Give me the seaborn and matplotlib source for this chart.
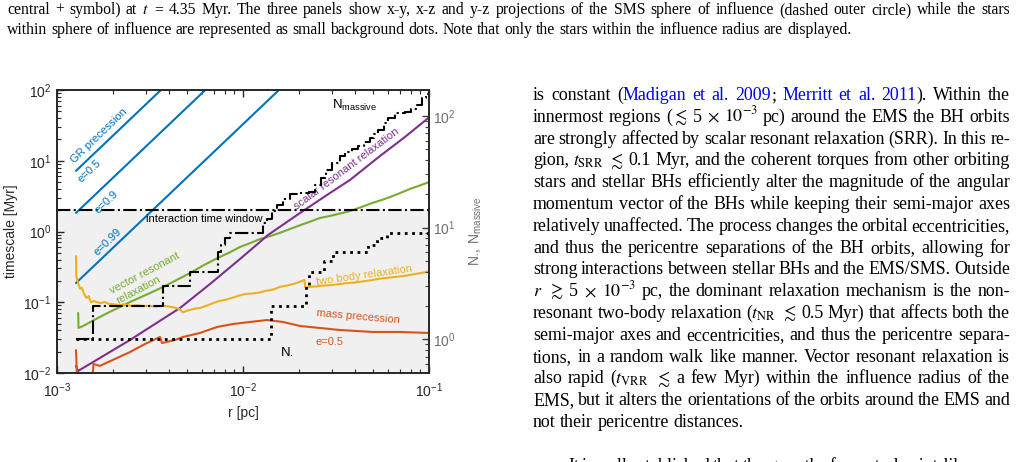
import matplotlib
matplotlib.use("Agg")
import matplotlib.pyplot as plt
from matplotlib.transforms import IdentityTransform
from matplotlib.ticker import NullFormatter
import seaborn as sns

W, H = 1017, 462

# ---- data ----
# GR precession (straight lines, start / end)
gr_r_05 = [1.265e-3, 3.62e-3]
gr_t_05 = [7.2, 100]
gr_r_09 = [1.265e-3, 6.27e-3]
gr_t_09 = [1.83, 100]
gr_r_099 = [1.265e-3, 1.56e-2]
gr_t_099 = [0.187, 100]

# two body relaxation
nr_r = [1.265e-3, 1.27e-3, 1.3e-3, 1.33e-3, 1.36e-3, 1.4e-3, 1.44e-3, 1.48e-3, 1.52e-3, 1.58e-3,
        1.65e-3, 1.72e-3, 1.8e-3, 1.9e-3, 2.0e-3, 2.15e-3, 2.3e-3, 2.5e-3, 2.7e-3, 2.9e-3,
        3.1e-3, 3.4e-3, 3.7e-3, 4.0e-3, 4.3e-3, 4.55e-3, 4.75e-3, 4.95e-3, 5.2e-3, 5.5e-3,
        5.9e-3, 6.4e-3, 6.9e-3, 7.4e-3, 8.0e-3, 8.7e-3, 9.5e-3, 1.03e-2, 1.12e-2, 1.22e-2,
        1.33e-2, 1.45e-2, 1.58e-2, 1.72e-2, 1.88e-2, 2.02e-2, 2.14e-2, 2.16e-2, 2.3e-2, 2.5e-2,
        2.75e-2, 3.0e-2, 3.3e-2, 3.6e-2, 4.0e-2, 4.4e-2, 4.9e-2, 5.4e-2, 6.0e-2, 6.6e-2,
        7.3e-2, 8.0e-2, 8.8e-2, 9.5e-2, 1.0e-1]
nr_t = [0.45, 0.23, 0.185, 0.155, 0.16, 0.13, 0.115, 0.122, 0.1, 0.104,
        0.1, 0.097, 0.101, 0.095, 0.094, 0.091, 0.093, 0.089, 0.091, 0.088,
        0.089, 0.087, 0.089, 0.087, 0.084, 0.08, 0.072, 0.075, 0.078, 0.081,
        0.083, 0.09, 0.097, 0.104, 0.108, 0.115, 0.124, 0.131, 0.133, 0.137,
        0.145, 0.151, 0.165, 0.172, 0.182, 0.195, 0.207, 0.163, 0.165, 0.168,
        0.173, 0.175, 0.181, 0.186, 0.19, 0.197, 0.205, 0.215, 0.222, 0.228,
        0.235, 0.245, 0.255, 0.265, 0.275]

# vector resonant relaxation
vrr_r = [1.3e-3, 1.305e-3, 1.4e-3, 1.5e-3, 1.7e-3, 1.9e-3, 2.15e-3, 2.47e-3, 2.8e-3, 3.2e-3,
         3.71e-3, 4.3e-3, 5.19e-3, 6.1e-3, 7.34e-3, 8.4e-3, 9.63e-3, 1.1e-2, 1.234e-2, 1.4e-2,
         1.6e-2, 1.79e-2, 2.05e-2, 2.3e-2, 2.59e-2, 3.0e-2, 3.4e-2, 3.76e-2, 4.3e-2, 5.0e-2,
         5.6e-2, 6.17e-2, 7.0e-2, 8.0e-2, 9.0e-2, 0.1]
vrr_t = [0.0706, 0.0433, 0.047, 0.052, 0.0619, 0.072, 0.084, 0.1008, 0.117, 0.137,
         0.164, 0.2, 0.259, 0.33, 0.425, 0.5, 0.604, 0.69, 0.783, 0.86,
         0.97, 1.085, 1.24, 1.38, 1.55, 1.68, 1.82, 1.95, 2.2, 2.55,
         2.8, 3.07, 3.5, 4.05, 4.5, 5.0]

# scalar resonant relaxation
srr_r = [1.265e-3, 1.297e-3, 1.7e-3, 2.47e-3, 3.364e-3, 4.585e-3, 6.647e-3, 9.63e-3,
         1.363e-2, 2.025e-2, 2.935e-2, 3.76e-2, 5.454e-2, 7.43e-2, 0.1]
srr_t = [0.01256, 0.01067, 0.0163, 0.0293, 0.0493, 0.0829, 0.181, 0.408,
         0.892, 1.826, 3.5, 5.35, 11.67, 21.7, 41.0]

# mass precession, e=0.5
mp_r = [1.265e-3, 1.281e-3, 1.414e-3, 1.552e-3, 1.571e-3, 1.7e-3, 2.05e-3, 2.47e-3, 2.97e-3,
        3.58e-3, 3.67e-3, 4.31e-3, 4.76e-3, 5.87e-3, 7.25e-3, 8.84e-3, 1.09e-2, 1.346e-2,
        1.64e-2, 2.025e-2, 2.59e-2, 3.32e-2, 5.0e-2, 7.0e-2, 0.1]
mp_t = [0.0211, 0.0091, 0.0085, 0.0088, 0.0134, 0.0126, 0.0158, 0.0198, 0.0257,
        0.0323, 0.0265, 0.0293, 0.0323, 0.0368, 0.0447, 0.0493, 0.0526, 0.0561,
        0.0526, 0.0462, 0.0433, 0.0405, 0.038, 0.038, 0.0368]

# N_massive (right axis, steps)
nm_r = [1.265e-3, 1.561e-3, 3.71e-3, 5.19e-3, 7.34e-3, 7.62e-3, 8.0e-3, 8.51e-3, 1.281e-2,
        1.346e-2, 1.432e-2, 1.523e-2, 1.64e-2, 1.79e-2, 2.025e-2, 2.25e-2, 2.45e-2, 2.62e-2,
        2.8e-2, 3.0e-2, 3.32e-2, 3.55e-2, 3.85e-2, 4.15e-2, 4.45e-2, 4.8e-2, 5.06e-2, 5.3e-2,
        5.75e-2, 6.02e-2, 6.56e-2, 7.43e-2, 8.0e-2, 8.6e-2, 9.2e-2, 9.64e-2, 0.1]
nm_n = [1, 2, 3, 4, 6, 7, 8, 9, 11,
        12, 14, 16, 18, 20, 20.5, 21, 24, 28,
        33, 38, 44, 47, 50, 54, 58, 63, 69, 75,
        86, 95, 106, 108, 115, 125, 144, 158, 163]

# N_bullet (right axis, steps)
nb_r = [1.265e-3, 1.414e-2, 2.18e-2, 2.26e-2, 2.73e-2, 3.05e-2, 4.7e-2, 5.25e-2, 5.94e-2, 0.1]
nb_n = [1, 2, 3, 4, 5, 6, 7, 8, 9, 9]

BLUE, ORANGE, GREEN = "#0072BD", "#EDB120", "#77AC30"
PURPLE, RED = "#7E2F8E", "#D95319"
INK = "#262626"
SERIF = ["Liberation Serif", "DejaVu Serif"]

# ---- page text (caption above, column text right) ----
caption = [
    "central + symbol) at $t$ = 4.35 Myr. The three panels show x-y, x-z and y-z projections of the SMS sphere of influence (dashed outer circle) while the stars",
    "within sphere of influence are represented as small background dots. Note that only the stars within the influence radius are displayed.",
]
body = [
    "is constant (|Madigan| |et| |al.| |2009|; |Merritt| |et| |al.| |2011|). Within the",
    r"innermost regions ($\lesssim$ 5 $\times$ $10^{-3}$ pc) around the EMS the BH orbits",
    "are strongly affected by scalar resonant relaxation (SRR). In this re-",
    r"gion, $t_\mathrm{SRR}$ $\lesssim$ 0.1 Myr, and the coherent torques from other orbiting",
    "stars and stellar BHs efficiently alter the magnitude of the angular",
    "momentum vector of the BHs while keeping their semi-major axes",
    "relatively unaffected. The process changes the orbital eccentricities,",
    "and thus the pericentre separations of the BH orbits, allowing for",
    "strong interactions between stellar BHs and the EMS/SMS. Outside",
    r"$r$ $\gtrsim$ 5 $\times$ $10^{-3}$ pc, the dominant relaxation mechanism is the non-",
    r"resonant two-body relaxation ($t_\mathrm{NR}$ $\lesssim$ 0.5 Myr) that affects both the",
    "semi-major axes and eccentricities, and thus the pericentre separa-",
    "tions, in a random walk like manner. Vector resonant relaxation is",
    r"also rapid ($t_\mathrm{VRR}$ $\lesssim$ a few Myr) within the influence radius of the",
    "EMS, but it alters the orientations of the orbits around the EMS and",
    "not their pericentre distances.",
]
next_par = "It is well established that the growth of a central point-like mass"

sns.set_style("ticks")
plt.rcParams["font.family"] = ["Liberation Sans", "DejaVu Sans"]
plt.rcParams["mathtext.fontset"] = "stix"
plt.rcParams["axes.unicode_minus"] = False

fig = plt.figure(figsize=(W / 100, H / 100), dpi=100)
rend = fig.canvas.get_renderer()


def put_line(text, x0, y, x1=None, size=12.9):
    """Draw one line of page text at pixel baseline y; justify to x1 if given."""
    words = []
    for w in text.split(" "):
        objs = []
        for k, part in enumerate(w.split("|")):
            if part:
                objs.append(fig.text(0, 0, part, fontsize=size, family=SERIF,
                                     color="#0000EE" if k % 2 else "black",
                                     va="baseline", transform=IdentityTransform()))
        words.append(objs)
    widths = [[o.get_window_extent(rend).width for o in objs] for objs in words]
    total = sum(sum(ws) for ws in widths)
    gap = size * 100 / 72 * 0.25
    if x1 is not None and len(words) > 1:
        gap = (x1 - x0 - total) / (len(words) - 1)
    x = x0
    for objs, ws in zip(words, widths):
        for o, w in zip(objs, ws):
            o.set_position((x, H - y))
            x += w
        x += gap


put_line(caption[0], 7, 14, 1010, size=11.35)
put_line(caption[1], 7, 34, size=11.35)
for i, line in enumerate(body):
    x1 = None if i == len(body) - 1 else 1010
    put_line(line, 533, 100 + 21.8 * i, x1)
put_line(next_par, 568, 471, 1010)

# ---- chart ----
ax = fig.add_axes([57 / W, 1 - 373 / H, 372 / W, 283 / H])
ax.set_xscale("log")
ax.set_yscale("log")
ax.set_xlim(1e-3, 1e-1)
ax.set_ylim(1e-2, 1e2)

ax.axhspan(1e-2, 2, color="#f0f0f0", lw=0, zorder=0)
ax.axhline(2, color="black", ls="-.", lw=1.5, zorder=3)

line_kw = dict(ax=ax, estimator=None, sort=False, lw=1.5)
for rr, tt in [(gr_r_05, gr_t_05), (gr_r_09, gr_t_09), (gr_r_099, gr_t_099)]:
    sns.lineplot(x=rr, y=tt, color=BLUE, **line_kw)
sns.lineplot(x=vrr_r, y=vrr_t, color=GREEN, **line_kw)
sns.lineplot(x=srr_r, y=srr_t, color=PURPLE, **line_kw)
sns.lineplot(x=nr_r, y=nr_t, color=ORANGE, **line_kw)
sns.lineplot(x=mp_r, y=mp_t, color=RED, **line_kw)

ax2 = ax.twinx()
ax2.set_yscale("log")
ax2.set_ylim(0.5, 170)
sns.lineplot(x=nm_r, y=nm_n, ax=ax2, color="black", lw=1.5, ls="-.",
             estimator=None, sort=False, drawstyle="steps-post")
sns.lineplot(x=nb_r, y=nb_n, ax=ax2, color="black", lw=2, ls=":",
             estimator=None, sort=False, drawstyle="steps-post")
ax2.set_xlim(1e-3, 1e-1)

# annotations
txt = dict(ha="center", va="center", rotation_mode="anchor", fontsize=8)
ax.text(1.68e-3, 22.4, "GR precession", color=BLUE, rotation=44, **txt)
ax.text(1.486e-3, 7.16, "e=0.5", color=BLUE, rotation=44, **txt)
ax.text(1.834e-3, 2.61, "e=0.9", color=BLUE, rotation=44, **txt)
ax.text(1.88e-3, 0.71, "e=0.99", color=BLUE, rotation=44, **txt)
ax.text(3.01e-3, 1.5, "interaction time window", color="black", ha="left", va="center", fontsize=8)
ax.text(3.08e-3, 0.22, "vector resonant\nrelaxation", color=GREEN, rotation=28,
        multialignment="left", **txt)
ax.text(3.58e-2, 7.64, "scalar resonant relaxation", color=PURPLE, rotation=37, **txt)
ax.text(4.47e-2, 0.243, "two body relaxation", color=ORANGE, rotation=8, **txt)
ax.text(4.15e-2, 0.0619, "mass precession", color=RED, rotation=-5, **txt)
ax.text(2.935e-2, 0.0274, "e=0.5", color=RED, **txt)
ax.text(1.724e-2, 0.0198, r"$\mathdefault{N_{\bullet}}$", color="black", ha="center", va="center", fontsize=9.5)
ax.text(4.0e-2, 61.4, r"$\mathdefault{N_{massive}}$", color="black", ha="center", va="center", fontsize=9.5)

# axes styling (MATLAB look)
for a in (ax, ax2):
    a.tick_params(which="major", length=5, width=1)
    a.tick_params(which="minor", length=3, width=0.8)
    for s in a.spines.values():
        s.set_linewidth(1.2)
        s.set_color(INK)
ax.tick_params(which="both", direction="in", top=True, right=False, colors=INK,
               labelsize=10, pad=4)
ax.tick_params(axis="x", which="both", pad=6)
ax2.tick_params(which="both", direction="in", right=True, left=False, top=False,
                colors="#404040", labelcolor="#707070", labelsize=10, pad=3)
ax.xaxis.set_minor_formatter(NullFormatter())
ax2.yaxis.set_minor_formatter(NullFormatter())
ax.yaxis.set_minor_formatter(NullFormatter())

ax.set_xlabel("r [pc]", fontsize=10, color=INK)
ax.xaxis.set_label_coords(0.5, -0.115)
ax.set_ylabel("timescale [Myr]", fontsize=10, color=INK)
ax.yaxis.set_label_coords(-0.105, 0.5)
ax2.set_ylabel(r"$\mathdefault{N_{\bullet},\ N_{massive}}$", fontsize=10, color="#707070")
ax2.yaxis.set_label_coords(1.105, 0.5)

fig.savefig("out.png", dpi=100)
